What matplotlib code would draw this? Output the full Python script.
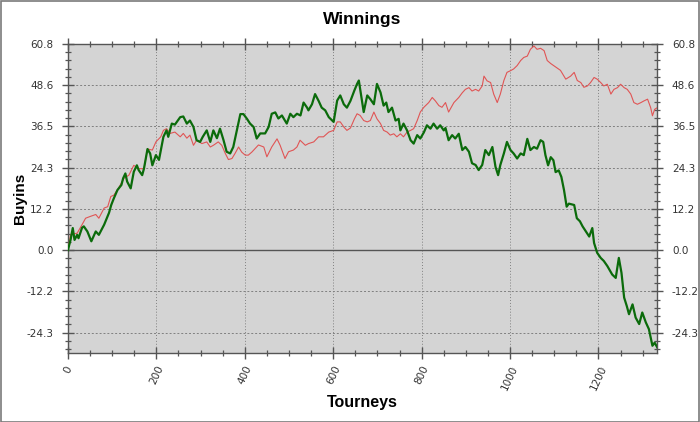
import matplotlib
matplotlib.use("Agg")
import matplotlib.pyplot as plt
from matplotlib.ticker import MultipleLocator, FormatStrFormatter
from matplotlib.patches import Rectangle

# ---- data ----
green_t = [0, 6, 11, 15, 21, 24, 32, 36, 44, 53, 63, 70, 82, 93, 98, 104, 112, 121, 125, 130,
           134, 142, 149, 156, 160, 168, 172, 180, 186, 191, 199, 206, 216, 223, 227, 235, 242,
           254, 261, 269, 276, 284, 291, 299, 305, 314, 322, 329, 337, 344, 352, 359, 367, 374,
           382, 390, 397, 405, 412, 420, 427, 435, 446, 454, 461, 469, 476, 484, 495, 503, 510,
           518, 526, 533, 541, 544, 552, 559, 567, 574, 582, 590, 601, 609, 616, 624, 631, 639,
           648, 654, 658, 665, 669, 677, 684, 692, 699, 707, 714, 720, 725, 733, 741, 748, 752,
           759, 767, 775, 782, 790, 797, 805, 812, 820, 827, 835, 842, 850, 854, 861, 869, 876,
           884, 892, 899, 907, 914, 922, 929, 937, 944, 952, 960, 967, 973, 978, 986, 993, 1001,
           1008, 1016, 1024, 1031, 1039, 1046, 1054, 1061, 1069, 1075, 1080, 1086, 1092, 1098,
           1103, 1110, 1116, 1122, 1128, 1133, 1145, 1151, 1158, 1164, 1171, 1179, 1186, 1190,
           1197, 1205, 1212, 1220, 1231, 1239, 1246, 1252, 1258, 1264, 1269, 1277, 1284, 1292,
           1299, 1307, 1314, 1322, 1327, 1333]
green_v = [0, 3, 6.5, 3, 4.5, 3.5, 6.6, 7, 5.5, 2.6, 5.5, 4.5, 7.5, 11, 13.3, 15.3, 17.7, 19.2,
           21.2, 22.6, 20.2, 18.2, 23.1, 25, 23.6, 22.1, 24, 29.8, 28.5, 25, 28, 26.6, 33.4, 35.3,
           33.4, 37.3, 37, 39.2, 39.4, 37.3, 38.2, 36.3, 32.4, 31.9, 33.4, 35.3, 31.9, 35.3, 33,
           35.8, 32.4, 29, 28.5, 30.4, 35.3, 40.1, 40.1, 38.7, 37.3, 36.3, 32.9, 34.4, 34.4, 36.3,
           40.2, 40.6, 38.8, 39.7, 37.3, 40.2, 39.2, 40.2, 39.7, 43.5, 42, 41.2, 43, 46, 44, 42,
           41.2, 39.2, 37.8, 44.1, 45.6, 43, 42, 44, 47.1, 49, 50, 44.1, 40.7, 45.6, 44.5, 43, 49,
           46.5, 42.6, 43.5, 40.7, 42, 38.2, 38.7, 35.3, 37.3, 35.3, 32.4, 31.4, 33.9, 32.9, 34.7,
           36.8, 35.8, 37.3, 35.8, 36.8, 35.3, 36, 32.4, 33.9, 32.9, 34.3, 29.5, 30.4, 29, 25.6,
           25.1, 23.6, 25.1, 29.5, 28, 30.4, 24.6, 22.1, 25.1, 28.5, 31.9, 29.5, 28.5, 27, 28.5,
           28, 32.8, 29.5, 30.4, 29.9, 32.4, 31.9, 28, 25, 27.4, 26.5, 23, 23.5, 21.6, 17.7, 12.8,
           13.7, 13.3, 9.4, 8.5, 7, 5.6, 4, 6.5, 2.1, -0.8, -2.3, -3.2, -4.7, -7.2, -8.2, -2.3,
           -6.7, -14, -16.5, -18.9, -16, -19.9, -21.8, -18.4, -21.3, -23.3, -28.2, -27.3, -28.7]

red_t = [0, 6, 21, 32, 40, 50, 63, 70, 82, 90, 97, 104, 115, 127, 138, 149, 160, 172, 180, 191,
         199, 210, 216, 223, 231, 242, 254, 261, 269, 276, 284, 291, 303, 314, 322, 329, 340, 348,
         356, 363, 371, 378, 386, 393, 401, 408, 416, 423, 431, 443, 450, 461, 473, 480, 491, 499,
         510, 518, 525, 537, 544, 556, 567, 578, 590, 601, 609, 616, 624, 631, 639, 648, 654, 661,
         669, 677, 684, 692, 699, 707, 714, 722, 729, 737, 744, 752, 759, 767, 775, 782, 790, 797,
         805, 816, 824, 831, 839, 846, 854, 861, 873, 884, 892, 899, 907, 914, 922, 929, 937, 941,
         948, 956, 963, 971, 978, 986, 993, 1001, 1008, 1016, 1024, 1031, 1039, 1046, 1054, 1061,
         1069, 1077, 1084, 1092, 1103, 1114, 1126, 1137, 1145, 1152, 1160, 1167, 1175, 1182, 1190,
         1197, 1205, 1212, 1220, 1228, 1235, 1243, 1250, 1258, 1265, 1273, 1280, 1288, 1296, 1303,
         1311, 1318, 1322, 1327, 1333]
red_v = [0, 4.5, 5, 7.5, 9.4, 9.9, 10.5, 9.4, 12.4, 12.8, 15.8, 16.2, 18.4, 21.2, 22.1, 25, 24,
         24, 29.8, 29.5, 31.9, 33.4, 35.3, 35.8, 34.4, 34.8, 33.4, 34.4, 33, 33.9, 30.9, 32.4, 31.4,
         31.9, 30.4, 30.9, 31.9, 30.9, 28.5, 26.7, 27, 28.5, 30.4, 28.9, 28, 28, 28.9, 29.9, 31,
         30.4, 27.5, 30.4, 32.8, 30.9, 27, 29, 29.5, 30.4, 32.4, 30.9, 31.4, 31.9, 33.4, 33.4,
         34.8, 35.3, 37.8, 37.8, 36.3, 35.3, 36, 38.7, 40.2, 39.7, 38.2, 37.8, 38.2, 40.7, 38.7,
         37.3, 35.3, 34.8, 33.9, 34.3, 33.4, 34.3, 33.4, 34.8, 35.3, 35.8, 38.2, 40.7, 42.1, 43.5,
         45, 44, 42.6, 42.1, 43.5, 40.7, 43.5, 45, 46.4, 47.4, 47.9, 46.9, 47.4, 46.9, 48.4, 51.3,
         49.9, 49.4, 46, 43.5, 46, 50, 52.4, 52.9, 53.4, 54.4, 55.9, 56.8, 57.2, 59.2, 60.2, 59.2,
         59.5, 58.8, 55.9, 55, 54, 53, 50.4, 51.3, 52.4, 50, 49.4, 48, 48.4, 49.4, 50.9, 50.4,
         49.4, 48.4, 48.9, 46, 47.4, 47.9, 48.9, 47.9, 47.4, 46, 43.5, 43, 43.5, 44, 44.5, 42,
         39.6, 41.5, 42]

title = "Winnings"
xlabel = "Tourneys"
ylabel = "Buyins"

# ---- figure ----
fig = plt.figure(figsize=(7.0, 4.22), dpi=100)
fig.patch.set_facecolor("white")
fig.patches.append(Rectangle((0.001, 0.001), 0.997, 0.996, transform=fig.transFigure,
                             fill=False, edgecolor="#7a7a7a", linewidth=1.2))

ax = fig.add_axes([0.097, 0.163, 0.842, 0.733])
ax.set_facecolor("#d4d4d4")

ax.plot(red_t, red_v, color="#e05555", linewidth=0.8, zorder=3)
ax.plot(green_t, green_v, color="#0b6b0b", linewidth=1.6, zorder=4)

ax.set_xlim(0, 1333)
ax.set_ylim(-30.4, 60.8)

ax.axhline(0, color="#555555", linewidth=1.0, zorder=2)

ax.xaxis.set_major_locator(MultipleLocator(200))
ax.xaxis.set_minor_locator(MultipleLocator(50))
ax.yaxis.set_major_locator(MultipleLocator(12.16))
ax.yaxis.set_minor_locator(MultipleLocator(12.16 / 5))
ax.yaxis.set_major_formatter(FormatStrFormatter("%.1f"))

ax.grid(True, which="major", axis="y", color="#808080", linestyle=(0, (2, 2)), linewidth=0.7)
ax.grid(True, which="major", axis="x", color="#808080", linestyle=(0, (1, 2)), linewidth=0.7)
ax.set_axisbelow(True)

ax.tick_params(axis="both", which="major", direction="inout", length=9, width=1.0,
               color="#555555", labelsize=7.5, labelcolor="#333333",
               top=True, right=True, labelright=True)
ax.tick_params(axis="both", which="minor", direction="inout", length=5, width=0.9,
               color="#555555", top=True, right=True)
ax.tick_params(axis="y", which="major", pad=6)

for lbl in ax.get_xticklabels():
    lbl.set_rotation(65)
    lbl.set_ha("center")
    lbl.set_va("top")

for s in ax.spines.values():
    s.set_color("#555555")
    s.set_linewidth(1.0)

ax.set_title(title, fontsize=12.5, fontweight="bold", family="Liberation Sans", pad=14)
ax.set_xlabel(xlabel, fontsize=11.5, fontweight="bold", family="Liberation Sans")
ax.xaxis.set_label_coords(0.5, -0.135)
ax.set_ylabel(ylabel, fontsize=11, fontweight="bold", family="Liberation Sans")
ax.yaxis.set_label_coords(-0.081, 0.5)
ax.yaxis.label.set_va("center")

fig.savefig("out.png", dpi=100)
